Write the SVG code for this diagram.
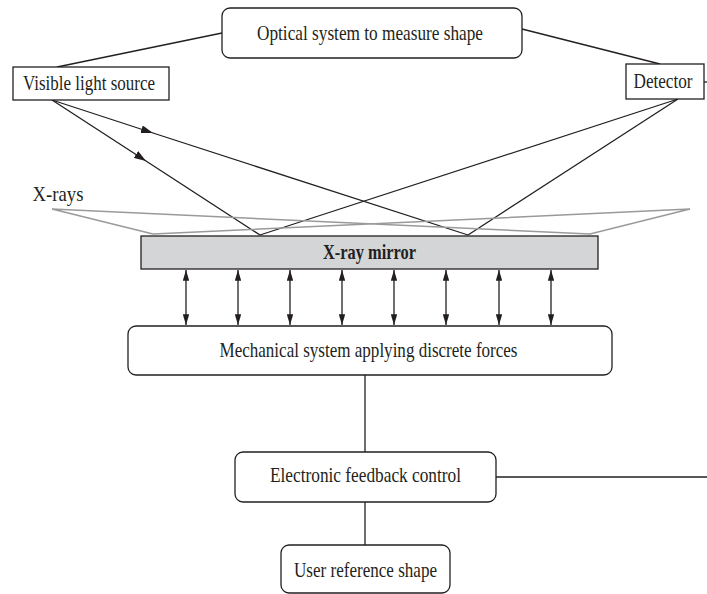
<svg xmlns="http://www.w3.org/2000/svg" width="707" height="594" viewBox="0 0 707 594">
  <style>
    .box { fill: #ffffff; stroke: #231f20; stroke-width: 1.3; }
    .lbl { font-family: "Liberation Serif", "Times New Roman", serif; font-size: 21px; fill: #231f20; text-anchor: middle; }
    .ln { stroke: #231f20; stroke-width: 1.3; fill: none; }
    .xr { stroke: #9a9a9a; stroke-width: 1.5; fill: none; }
  </style>
  <defs>
    <marker id="tri" viewBox="0 0 12 8" refX="12" refY="4" markerWidth="12" markerHeight="8" markerUnits="userSpaceOnUse" orient="auto">
      <path d="M0,0 L12,4 L0,8 Z" fill="#231f20"/>
    </marker>
    <marker id="head" viewBox="0 0 10 6" refX="10" refY="3" markerWidth="11" markerHeight="6.5" markerUnits="userSpaceOnUse" orient="auto-start-reverse">
      <path d="M0,0 L10,3 L0,6 Z" fill="#231f20"/>
    </marker>
  </defs>

  <!-- connectors -->
  <g id="connectors">
    <!-- optical system links -->
    <line class="ln" x1="222" y1="33" x2="57" y2="67"/>
    <line class="ln" x1="522" y1="29" x2="660" y2="64"/>
    <line class="ln" x1="704" y1="82" x2="707" y2="82"/>
    <!-- visible light rays -->
    <polyline class="ln" points="52,100 153,133 468,235" marker-mid="url(#tri)"/>
    <polyline class="ln" points="52,100 146,161 260,235" marker-mid="url(#tri)"/>
    <!-- reflected rays to detector -->
    <line class="ln" x1="260" y1="235" x2="678" y2="99"/>
    <line class="ln" x1="468" y1="235" x2="678" y2="99"/>
    <!-- x-rays -->
    <polyline class="xr" points="153,234 52,209 590,234 690,209 153,234"/>
    <!-- actuators -->
    <g class="ln">
      <line x1="186" y1="270" x2="186" y2="325" marker-start="url(#head)" marker-end="url(#head)"/>
      <line x1="238" y1="270" x2="238" y2="325" marker-start="url(#head)" marker-end="url(#head)"/>
      <line x1="290" y1="270" x2="290" y2="325" marker-start="url(#head)" marker-end="url(#head)"/>
      <line x1="342" y1="270" x2="342" y2="325" marker-start="url(#head)" marker-end="url(#head)"/>
      <line x1="394" y1="270" x2="394" y2="325" marker-start="url(#head)" marker-end="url(#head)"/>
      <line x1="446" y1="270" x2="446" y2="325" marker-start="url(#head)" marker-end="url(#head)"/>
      <line x1="499" y1="270" x2="499" y2="325" marker-start="url(#head)" marker-end="url(#head)"/>
      <line x1="551" y1="270" x2="551" y2="325" marker-start="url(#head)" marker-end="url(#head)"/>
    </g>
    <!-- control chain -->
    <line class="ln" x1="365" y1="375" x2="365" y2="452"/>
    <line class="ln" x1="496" y1="477" x2="707" y2="477"/>
    <line class="ln" x1="365" y1="502" x2="365" y2="545"/>
  </g>

  <text class="lbl" x="58" y="201" textLength="51" lengthAdjust="spacingAndGlyphs">X-rays</text>

  <g id="optical">
    <rect class="box" x="222" y="8" width="300" height="50" rx="8"/>
    <text class="lbl" x="370" y="40" textLength="226" lengthAdjust="spacingAndGlyphs">Optical system to measure shape</text>
  </g>

  <g id="source">
    <rect class="box" x="13" y="67" width="156" height="33"/>
    <text class="lbl" x="89" y="90" textLength="132" lengthAdjust="spacingAndGlyphs">Visible light source</text>
  </g>

  <g id="detector">
    <rect class="box" x="626" y="64" width="78" height="35"/>
    <text class="lbl" x="663" y="88" textLength="59" lengthAdjust="spacingAndGlyphs">Detector</text>
  </g>

  <g id="mirror">
    <rect x="141" y="236" width="457" height="33" fill="#d4d5d7" stroke="#231f20" stroke-width="1.3"/>
    <text class="lbl" x="369.5" y="259" font-weight="bold" textLength="93" lengthAdjust="spacingAndGlyphs">X-ray mirror</text>
  </g>

  <g id="mechanical">
    <rect class="box" x="128" y="326" width="484" height="49" rx="8"/>
    <text class="lbl" x="368.5" y="357" textLength="298" lengthAdjust="spacingAndGlyphs">Mechanical system applying discrete forces</text>
  </g>

  <g id="feedback">
    <rect class="box" x="235" y="452" width="261" height="50" rx="8"/>
    <text class="lbl" x="365.5" y="482" textLength="191" lengthAdjust="spacingAndGlyphs">Electronic feedback control</text>
  </g>

  <g id="reference">
    <rect class="box" x="281" y="545" width="169" height="48" rx="8"/>
    <text class="lbl" x="365.5" y="577" textLength="143" lengthAdjust="spacingAndGlyphs">User reference shape</text>
  </g>
</svg>
